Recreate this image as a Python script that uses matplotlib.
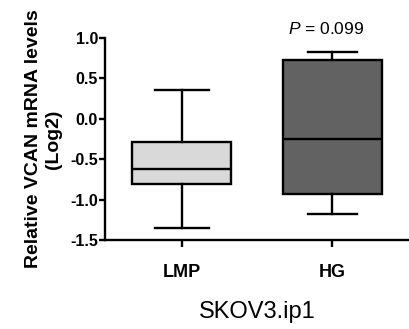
import matplotlib.pyplot as plt

plt.rcParams['font.family'] = ['Liberation Sans', 'DejaVu Sans']
plt.rcParams['mathtext.fontset'] = 'custom'
plt.rcParams['mathtext.it'] = 'Liberation Sans:italic'
plt.rcParams['mathtext.rm'] = 'Liberation Sans'

groups = ["LMP", "HG"]
whis_low = [-1.35, -1.18]
q1 = [-0.81, -0.93]
median = [-0.62, -0.25]
q3 = [-0.285, 0.73]
whis_high = [0.36, 0.83]
fills = ["#d9d9d9", "#626262"]
yticks = [-1.5, -1.0, -0.5, 0.0, 0.5, 1.0]

stats = []
for i in range(len(groups)):
	stats.append({"label": groups[i], "whislo": whis_low[i], "q1": q1[i], "med": median[i],
		"q3": q3[i], "whishi": whis_high[i], "fliers": []})

fig = plt.figure(figsize=(4.10, 3.29), dpi=100)
ax = fig.add_axes([0.256, 0.2705, 0.742, 0.614])

lw = 1.7
bp = ax.bxp(stats, positions=[0, 1], widths=0.66, capwidths=[0.36, 0.33], patch_artist=True,
	showfliers=False,
	boxprops=dict(linewidth=lw, edgecolor="black"),
	medianprops=dict(linewidth=lw, color="black"),
	whiskerprops=dict(linewidth=lw, color="black"),
	capprops=dict(linewidth=lw, color="black"))
for patch, c in zip(bp["boxes"], fills):
	patch.set_facecolor(c)

ax.set_xlim(-0.51, 1.51)
ax.set_ylim(-1.5, 1.0)
ax.set_yticks(yticks)
ax.set_yticklabels(["%.1f" % v for v in yticks], fontweight="bold", fontsize=11.5)
ax.set_xticks([0, 1])
ax.set_xticklabels(groups, fontweight="bold", fontsize=13)
ax.tick_params(axis="y", length=4, width=lw, pad=1)
ax.tick_params(axis="x", length=5, width=lw, pad=12)
for s in ["top", "right"]:
	ax.spines[s].set_visible(False)
for s in ["left", "bottom"]:
	ax.spines[s].set_linewidth(lw)

ax.set_ylabel("Relative VCAN mRNA levels\n(Log2)", fontweight="bold", fontsize=14, linespacing=1.25, labelpad=6)
ax.set_xlabel("SKOV3.ip1", fontsize=17, labelpad=15)
ax.text(0.96, 1.11, "$P$ = 0.099", fontsize=12.5, ha="center", va="center", clip_on=False)

plt.savefig("out.png", dpi=100)
